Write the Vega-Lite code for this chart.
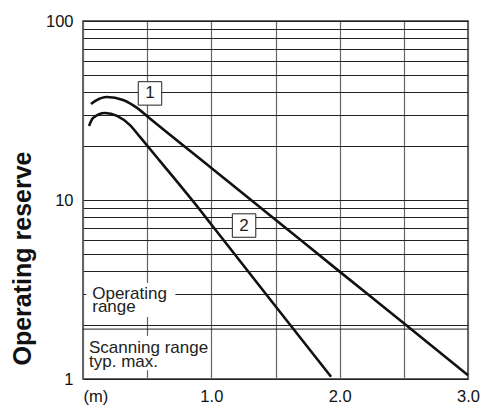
{
  "$schema": "https://vega.github.io/schema/vega-lite/v6.json",
  "width": 385,
  "height": 358,
  "autosize": {"type": "none"},
  "padding": {"left": 83, "top": 21, "right": 19, "bottom": 26},
  "background": "white",
  "config": {
    "view": {"stroke": "#333", "strokeWidth": 1.5},
    "font": "Liberation Sans"
  },
  "datasets": {
    "curves": [
      {"c": "1", "x": 0.062, "y": 34.4},
      {"c": "1", "x": 0.10, "y": 35.9},
      {"c": "1", "x": 0.187, "y": 37.6},
      {"c": "1", "x": 0.312, "y": 36.2},
      {"c": "1", "x": 0.421, "y": 32.7},
      {"c": "1", "x": 0.507, "y": 29.1},
      {"c": "1", "x": 1.0, "y": 15.1},
      {"c": "1", "x": 1.5, "y": 7.76},
      {"c": "1", "x": 2.0, "y": 3.98},
      {"c": "1", "x": 2.5, "y": 2.05},
      {"c": "1", "x": 3.0, "y": 1.05},
      {"c": "2", "x": 0.047, "y": 25.9},
      {"c": "2", "x": 0.078, "y": 28.7},
      {"c": "2", "x": 0.171, "y": 30.6},
      {"c": "2", "x": 0.265, "y": 29.5},
      {"c": "2", "x": 0.366, "y": 26.2},
      {"c": "2", "x": 0.444, "y": 22.5},
      {"c": "2", "x": 0.6, "y": 16.5},
      {"c": "2", "x": 0.912, "y": 8.79},
      {"c": "2", "x": 1.0, "y": 7.3},
      {"c": "2", "x": 1.5, "y": 2.55},
      {"c": "2", "x": 1.933, "y": 1.03}
    ],
    "extraLine": [{"x": 0, "x2": 3, "y": 1.9}],
    "blanks": [
      {"x": 0.025, "x2": 0.72, "y": 2.22, "y2": 3.44},
      {"x": 0.025, "x2": 0.9, "y": 1.12, "y2": 1.74}
    ],
    "notes": [
      {"x": 0.072, "y": 2.8, "t": "Operating\nrange"},
      {"x": 0.047, "y": 1.397, "t": "Scanning range\ntyp. max."}
    ],
    "tags": [
      {"x": 0.522, "y": 39.4, "t": "1"},
      {"x": 1.255, "y": 7.2, "t": "2"}
    ]
  },
  "encoding": {
    "x": {
      "field": "x",
      "type": "quantitative",
      "scale": {"domain": [0, 3], "nice": false, "zero": false},
      "axis": {
        "values": [0, 0.5, 1, 1.5, 2, 2.5, 3],
        "grid": true,
        "gridColor": "#666",
        "gridWidth": 1.2,
        "ticks": false,
        "domain": false,
        "labelExpr": "datum.value == 0 ? '(m)' : (datum.value % 1 == 0 ? format(datum.value, '.1f') : '')",
        "labelAlign": {"condition": {"test": "datum.value == 0", "value": "left"}, "value": "center"},
        "labelFlush": false,
        "labelOverlap": false,
        "labelFont": "Liberation Sans",
        "labelFontSize": 16.5,
        "labelColor": "#111",
        "labelBaseline": "alphabetic",
        "labelPadding": 22,
        "title": null
      }
    },
    "y": {
      "field": "y",
      "type": "quantitative",
      "scale": {"type": "log", "domain": [1, 100], "nice": false},
      "axis": {
        "values": [1, 2, 3, 4, 5, 6, 7, 8, 9, 10, 20, 30, 40, 50, 60, 70, 80, 90, 100],
        "grid": true,
        "gridColor": "#222",
        "gridWidth": 1,
        "ticks": false,
        "domain": false,
        "labelExpr": "datum.value == 1 || datum.value == 10 || datum.value == 100 ? format(datum.value, 'd') : ''",
        "labelOverlap": false,
        "labelFont": "Liberation Sans",
        "labelFontSize": 16.5,
        "labelColor": "#111",
        "labelPadding": 10,
        "title": "Operating reserve",
        "titleFont": "Liberation Sans",
        "titleFontSize": 25,
        "titleFontWeight": "bold",
        "titleColor": "#111",
        "titleAngle": -90,
        "titleAlign": "center",
        "titleBaseline": "alphabetic",
        "titleX": -53,
        "titleY": 237
      }
    }
  },
  "layer": [
    {
      "data": {"name": "extraLine"},
      "mark": {"type": "rule", "color": "#222", "strokeWidth": 1},
      "encoding": {"x2": {"field": "x2"}}
    },
    {
      "data": {"name": "blanks"},
      "mark": {"type": "rect", "fill": "white", "stroke": null},
      "encoding": {"x2": {"field": "x2"}, "y2": {"field": "y2"}}
    },
    {
      "data": {"name": "notes"},
      "mark": {"type": "text", "align": "left", "baseline": "alphabetic", "fontSize": 17, "font": "Liberation Sans", "color": "#222", "lineBreak": "\n", "lineHeight": 13.5},
      "encoding": {"text": {"field": "t", "type": "nominal"}}
    },
    {
      "data": {"name": "curves"},
      "mark": {"type": "line", "interpolate": "monotone", "color": "#111", "strokeWidth": 2.6},
      "encoding": {"detail": {"field": "c", "type": "nominal"}}
    },
    {
      "data": {"name": "tags"},
      "mark": {"type": "point", "shape": "square", "size": 550, "filled": true, "fill": "white", "stroke": "#222", "strokeWidth": 1, "opacity": 1}
    },
    {
      "data": {"name": "tags"},
      "mark": {"type": "text", "align": "center", "baseline": "middle", "fontSize": 17, "font": "Liberation Sans", "color": "#222"},
      "encoding": {"text": {"field": "t", "type": "nominal"}}
    }
  ]
}
